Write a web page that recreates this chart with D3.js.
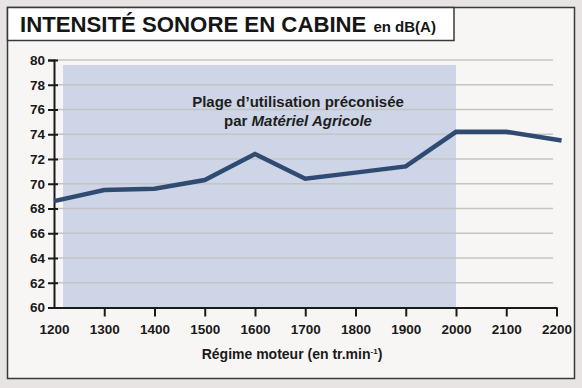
<!DOCTYPE html>
<html>
<head>
<meta charset="utf-8">
<script src="https://cdn.jsdelivr.net/npm/d3@7"></script>
<style>
  body { margin: 0; background: #e8e4e4; }
  svg { display: block; font-family: "Liberation Sans", Arial, sans-serif; }
</style>
</head>
<body>
<svg width="582" height="388"></svg>
<script>
let regime = [1200, 1300, 1400, 1500, 1600, 1700, 1800, 1900, 2000, 2100, 2210];
let bruit = [68.6, 69.5, 69.6, 70.3, 72.4, 70.4, 70.9, 71.4, 74.2, 74.2, 73.5];
let xTicks = [1200, 1300, 1400, 1500, 1600, 1700, 1800, 1900, 2000, 2100, 2200];
let yTicks = [60, 62, 64, 66, 68, 70, 72, 74, 76, 78, 80];
let plage = [1218, 2000]; // zone préconisée
let plageTop = 79.6;

let svg = d3.select("svg");
let width = +svg.attr("width");
let height = +svg.attr("height");

// fond et cadre
svg.append("rect")
  .attr("x", 7.5).attr("y", 7.5)
  .attr("width", 567).attr("height", 371)
  .attr("fill", "#f8f6f5")
  .attr("stroke", "#3a3a3a")
  .attr("stroke-width", 1.5);

svg.append("rect")
  .attr("x", 7.5).attr("y", 7.5)
  .attr("width", 446.5).attr("height", 33)
  .attr("fill", "#ffffff")
  .attr("stroke", "#3a3a3a")
  .attr("stroke-width", 1.5);

let title = svg.append("text")
  .attr("x", 20).attr("y", 32)
  .attr("font-weight", "bold")
  .attr("fill", "#161616");
title.append("tspan").attr("font-size", 22.2).text("INTENSITÉ SONORE EN CABINE");
title.append("tspan").attr("font-size", 15).attr("dx", 7).text("en dB(A)");

let x = d3.scaleLinear().domain([1200, 2200]).range([54, 556.5]);
let y = d3.scaleLinear().domain([60, 80]).range([307.5, 60]);

// zone préconisée
svg.append("rect")
  .attr("x", x(plage[0]))
  .attr("y", y(plageTop))
  .attr("width", x(plage[1]) - x(plage[0]))
  .attr("height", y(60) - y(plageTop))
  .attr("fill", "#cdd5e6");

// grille
svg.append("g")
  .selectAll("line")
  .data(yTicks.slice(1))
  .enter()
  .append("line")
  .attr("x1", x(1200)).attr("x2", 553)
  .attr("y1", (d) => y(d)).attr("y2", (d) => y(d))
  .attr("stroke", "#c4c4c4")
  .attr("stroke-width", 1.5);

// texte de la zone
let note = svg.append("text")
  .attr("text-anchor", "middle")
  .attr("font-size", 15)
  .attr("font-weight", "bold")
  .attr("fill", "#1e1e1e");
note.append("tspan").attr("x", 298).attr("y", 106.5).text("Plage d’utilisation préconisée");
let l2 = note.append("tspan").attr("x", 298).attr("y", 125.5);
l2.append("tspan").text("par ");
l2.append("tspan").attr("font-style", "italic").text("Matériel Agricole");

// axe y
let yAxis = svg.append("g")
  .attr("transform", `translate(${x(1200)},0)`)
  .call(d3.axisLeft(y).tickValues(yTicks).tickSize(6).tickPadding(3));
yAxis.select(".domain").attr("stroke", "#1a1a1a").attr("stroke-width", 2);
yAxis.selectAll(".tick line").attr("stroke", "#1a1a1a").attr("stroke-width", 2).attr("x2", -6).attr("x1", 4);
yAxis.selectAll("text")
  .attr("x", -9)
  .attr("font-size", 13.5)
  .attr("font-weight", "bold")
  .attr("fill", "#1a1a1a");

// axe x
let xAxis = svg.append("g")
  .attr("transform", `translate(0,${y(60)})`)
  .call(d3.axisBottom(x).tickValues(xTicks).tickFormat(d3.format("d"))
    .tickSize(9).tickSizeOuter(0).tickPadding(8));
xAxis.select(".domain").attr("stroke", "#1a1a1a").attr("stroke-width", 2);
xAxis.selectAll(".tick line").attr("stroke", "#1a1a1a").attr("stroke-width", 2)
  .attr("opacity", (d) => (d === 1200 ? 0 : 1));
xAxis.selectAll("text")
  .attr("font-size", 13.5)
  .attr("font-weight", "bold")
  .attr("fill", "#1a1a1a")
  .attr("font-family", "'Liberation Sans Narrow', 'Liberation Sans', Arial, sans-serif");

let xTitle = svg.append("text")
  .attr("x", 292).attr("y", 359)
  .attr("text-anchor", "middle")
  .attr("font-size", 14)
  .attr("font-weight", "bold")
  .attr("fill", "#1a1a1a")
  .text("Régime moteur (en tr.min");
xTitle.append("tspan").attr("font-size", 8).attr("dy", -5).text("-1");
xTitle.append("tspan").attr("dy", 5).text(")");

// courbe
let line = d3.line()
  .x((d, i) => x(regime[i]))
  .y((d) => y(d));

svg.append("path")
  .datum(bruit)
  .attr("d", line)
  .attr("fill", "none")
  .attr("stroke", "#304b72")
  .attr("stroke-width", 4.5)
  .attr("stroke-linejoin", "miter");
</script>
</body>
</html>
